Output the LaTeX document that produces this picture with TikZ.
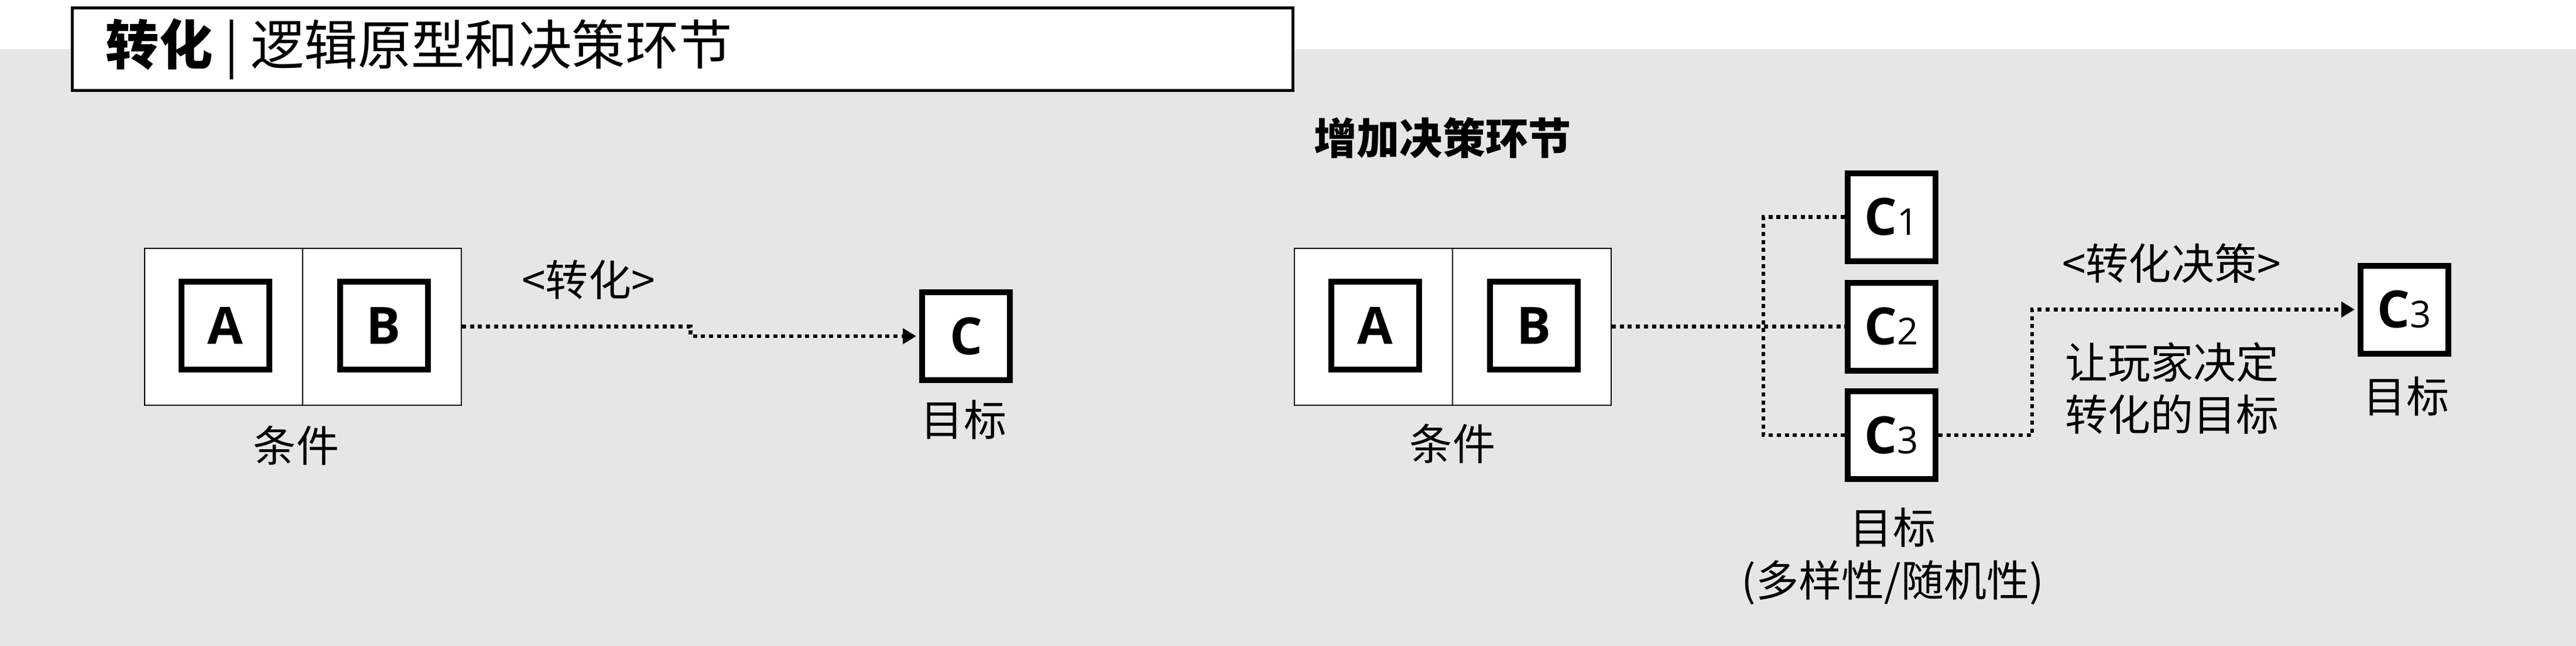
\documentclass[tikz,border=0pt]{standalone}
\usepackage{fontspec}
\setmainfont{Noto Sans CJK SC}
\newfontfamily\latin{Open Sans}
\usepackage{tikz}
\usetikzlibrary{arrows.meta, calc}
\definecolor{bggray}{HTML}{E6E6E6}
\definecolor{ink}{HTML}{000000}
\tikzset{
  titlebox/.style={rectangle, draw=ink, line width=0.05cm, fill=white,
    minimum width=20.85cm, minimum height=1.41cm, inner sep=0pt},
  titletext/.style={font=\fontsize{26}{30}\selectfont, inner sep=0pt, anchor=west},
  frame/.style={rectangle, draw=ink, line width=0.02cm, fill=white,
    minimum width=5.41cm, minimum height=2.68cm, inner sep=0pt},
  elem/.style={rectangle, draw=ink, line width=0.1cm, fill=white,
    minimum width=1.5cm, minimum height=1.5cm, inner sep=0pt,
    font=\latin\bfseries\fontsize{25}{30}\selectfont},
  lb/.style={font=\fontsize{20.8}{25.6}\selectfont, align=center, inner sep=0pt},
  lbh/.style={font=\bfseries\fontsize{20.8}{25.6}\selectfont, inner sep=0pt},
  ln/.style={draw=ink, line width=0.065cm, dash pattern=on 0.07cm off 0.067cm},
  ar/.style={ln, -{Triangle[length=0.23cm, width=0.26cm]}, shorten >=0.05cm},
}
\newcommand{\CN}[1]{C{\fontsize{18}{20}\selectfont\mdseries #1}}

\begin{document}
\begin{tikzpicture}
\useasboundingbox (0,0) rectangle (44,-11.03);
\fill[bggray] (0,-0.84) rectangle (44,-11.03);

\node[titlebox] (TT) at (11.66,-0.84) {};
\node[titletext] (TX) at (1.80,-0.84) {{\bfseries 转化}\hspace{0.22em}|\hspace{0.22em}逻辑原型和决策环节};

% original
\node[frame] (L) at (5.175,-5.575) {};
\draw[ink, line width=0.02cm] (L.north) ++(-0.01,0) -- ++(0,-2.68);
\node[elem] (LA) at (3.845,-5.56) {A};
\node[elem] (LB) at (6.555,-5.56) {B};
\node[lb] (LCND) at (5.06,-7.61) {条件};
\node[elem] (LC) at (16.50,-5.74) {C};
\node[lb] (LGOAL) at (16.46,-7.17) {目标};
\node[lb] (LTR) at (10.05,-4.78) {<转化>};

% with decision
\node[lbh] (HD) at (24.64,-2.35) {增加决策环节};
\node[frame] (R) at (24.815,-5.575) {};
\draw[ink, line width=0.02cm] (R.north) ++(-0.01,0) -- ++(0,-2.68);
\node[elem] (RA) at (23.49,-5.56) {A};
\node[elem] (RB) at (26.20,-5.56) {B};
\node[lb] (RCND) at (24.81,-7.58) {条件};

\node[elem] (C1) at (32.31,-3.705) {\CN{1}};
\node[elem] (C2) at (32.31,-5.575) {\CN{2}};
\node[elem] (C3) at (32.31,-7.43) {\CN{3}};
\node[lb] (GOALS) at (32.33,-9.495) {目标\\(多样性/随机性)};
\coordinate (J) at (30.12,-5.575);

\node[elem] (T) at (41.07,-5.285) {\CN{3}};
\node[lb] (TGOAL) at (41.10,-6.77) {目标};
\node[lb] (RTR) at (37.09,-4.50) {<转化决策>};
\node[lb] (NOTE) at (37.10,-6.63) {让玩家决定\\转化的目标};

\draw[ar] (L.east) -| ($(L.east)!.5!(LC.west)$) |- (LC.west);
\draw[ln] (R.east) -- (C2.west);
\draw[ln] (C1.west) -| (J) |- (C3.west);
\draw[ar] (C3.east) -- ++(1.6,0) |- (T.west);
\end{tikzpicture}
\end{document}
